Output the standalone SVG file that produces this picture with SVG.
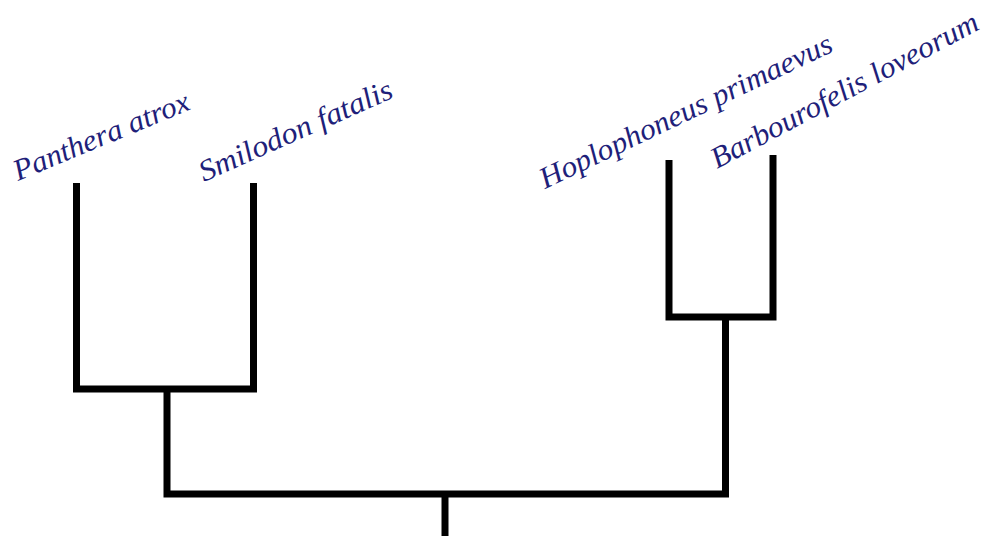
<svg xmlns="http://www.w3.org/2000/svg" width="996" height="536" viewBox="0 0 996 536">
  <style>
    .branch { fill: none; stroke: #000; stroke-width: 7; stroke-linejoin: miter; stroke-linecap: butt; }
    .taxon { font-family: "Liberation Serif", "Times New Roman", serif; font-style: italic; font-size: 30px; fill: #1f1f7a; }
  </style>
  <rect width="996" height="536" fill="#fff"/>

  <!-- tree branches -->
  <g id="connectors">
    <path class="branch" d="M76.5,183 V389 H253.5 V183"/>
    <path class="branch" d="M669,160 V317 H773 V155"/>
    <path class="branch" d="M167,389 V494 H725.5 V317"/>
    <path class="branch" d="M445,494 V536"/>
  </g>

  <!-- tip labels -->
  <g id="panthera-atrox">
    <text class="taxon" x="18" y="181" textLength="188" lengthAdjust="spacingAndGlyphs" transform="rotate(-22.5 18 181)">Panthera atrox</text>
  </g>
  <g id="smilodon-fatalis">
    <text class="taxon" x="204" y="182" textLength="209" lengthAdjust="spacingAndGlyphs" transform="rotate(-24 204 182)">Smilodon fatalis</text>
  </g>
  <g id="hoplophoneus-primaevus">
    <text class="taxon" x="545" y="189" textLength="321" lengthAdjust="spacingAndGlyphs" transform="rotate(-25.5 545 189)">Hoplophoneus primaevus</text>
  </g>
  <g id="barbourofelis-loveorum">
    <text class="taxon" x="717" y="169" textLength="299" lengthAdjust="spacingAndGlyphs" transform="rotate(-28 717 169)">Barbourofelis loveorum</text>
  </g>
</svg>
